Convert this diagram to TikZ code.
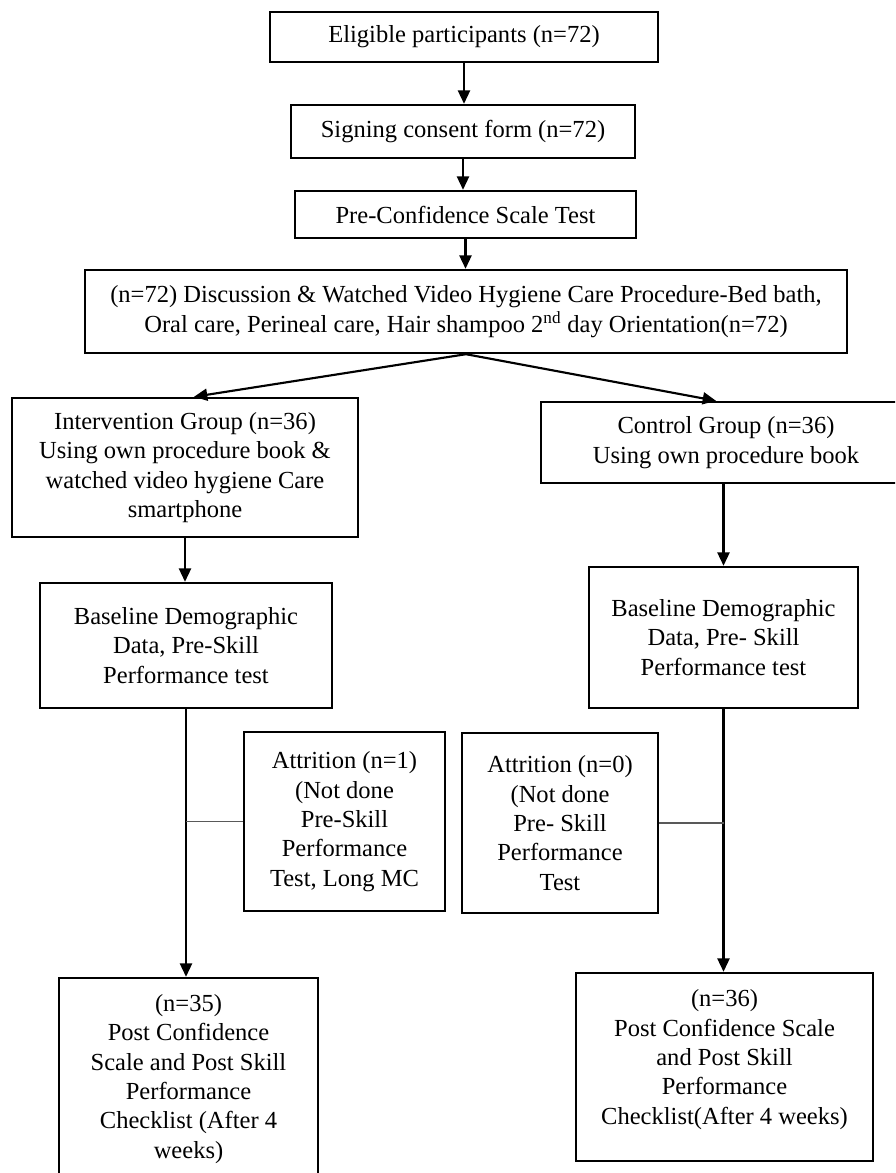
\documentclass[tikz,border=0pt]{standalone}
\usepackage{fontspec}
\setmainfont{Liberation Serif}
\usetikzlibrary{arrows.meta}
\begin{document}
\begin{tikzpicture}[x=0.75pt,y=-0.75pt,
  box/.style={draw, line width=1.8pt, inner sep=0pt, align=center, font=\fontsize{18.4}{22}\selectfont},
  arr/.style={line width=1.6pt, -{Triangle[length=10pt,width=9pt]}},
  link/.style={line width=1.1pt, draw=black!65}]
\path[use as bounding box] (0,0) rectangle (895,1173);
\clip (0,0) rectangle (895,1173);
\node[box, minimum width=291pt, minimum height=37.5pt] (elig) at (464,37) {Eligible participants (n=72)};
\node[box, minimum width=258pt, minimum height=39.75pt] (sign) at (463,131.5) {Signing consent form (n=72)};
\node[box, minimum width=255.75pt, minimum height=35.25pt] (pre) at (465.5,214.5) {Pre-Confidence Scale Test};
\node[box, minimum width=571.5pt, minimum height=62.25pt] (disc) at (466,311.5) {(n=72) Discussion \& Watched Video Hygiene Care Procedure-Bed bath,\\Oral care, Perineal care, Hair shampoo 2\textsuperscript{nd} day Orientation(n=72)};
\node[box, minimum width=259.5pt, minimum height=104.25pt] (inter) at (185,467.5) {Intervention Group (n=36)\\Using own procedure book \&\\watched video hygiene Care\\smartphone};
\node[box, minimum width=277.5pt, minimum height=60.75pt] (ctrl) at (726,442.5) {Control Group (n=36)\\Using own procedure book};
\node[box, minimum width=219pt, minimum height=93.75pt] (baseL) at (186,645.5) {Baseline Demographic\\Data, Pre-Skill\\Performance test};
\node[box, minimum width=201.75pt, minimum height=105.75pt] (baseR) at (723.5,637.5) {Baseline Demographic\\Data, Pre- Skill\\Performance test};
\node[box, minimum width=150.75pt, minimum height=134.25pt] (attr1) at (344.5,821.5) {Attrition (n=1)\\(Not done\\Pre-Skill\\Performance\\Test, Long MC};
\node[box, minimum width=147pt, minimum height=135pt] (attr0) at (560,823) {Attrition (n=0)\\(Not done\\Pre- Skill\\Performance\\Test};
\node[box, minimum width=194.25pt, minimum height=151.5pt] (postL) at (188.5,1079) {(n=35)\\Post Confidence\\Scale and Post Skill\\Performance\\Checklist (After 4\\weeks)};
\node[box, minimum width=222.75pt, minimum height=141pt] (postR) at (724.5,1067) {(n=36)\\Post Confidence Scale\\and Post Skill\\Performance\\Checklist(After 4 weeks)\\[-7pt]\mbox{}};
\draw[arr] (elig.south) -- (elig.south |- sign.north);
\draw[arr] (sign.south) -- (sign.south |- pre.north);
\draw[arr] (pre.south) -- (pre.south |- disc.north);
\draw[arr] (disc.south) -- ([xshift=6.75pt]inter.north);
\draw[arr] (disc.south) -- ([xshift=-7.5pt]ctrl.north);
\draw[arr] (inter.south) -- (inter.south |- baseL.north);
\draw[arr] (baseR.north |- ctrl.south) -- (baseR.north);
\draw[arr] (baseL.south) -- (baseL.south |- postL.north);
\draw[arr] (baseR.south) -- (baseR.south |- postR.north);
\draw[link] (attr1.west) -- (attr1.west -| baseL.south);
\draw[link] (attr0.east) -- (attr0.east -| baseR.south);
\end{tikzpicture}
\end{document}
